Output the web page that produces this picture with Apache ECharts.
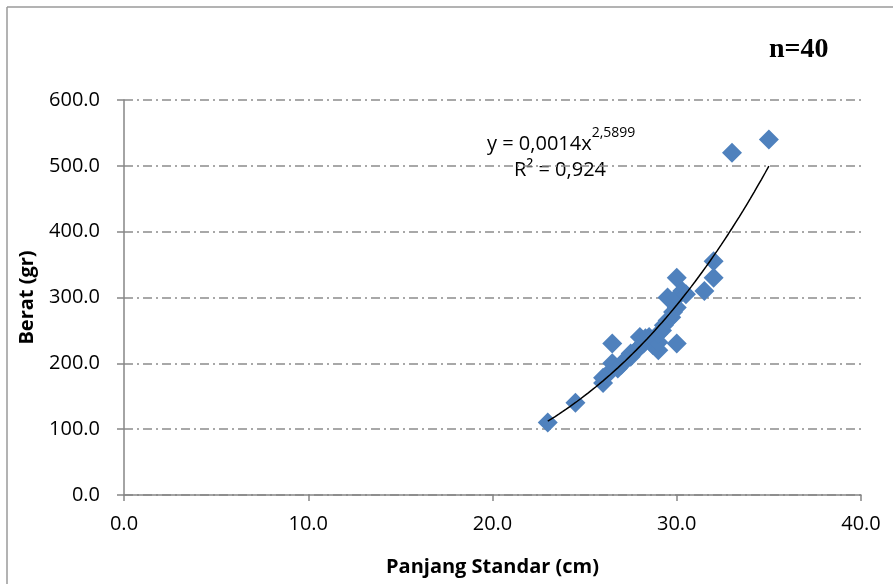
<!DOCTYPE html>
<html>
<head>
<meta charset="utf-8">
<script src="https://cdn.jsdelivr.net/npm/echarts@6/dist/echarts.min.js"></script>
<style>html,body{margin:0;padding:0;background:#fff;}#c{width:893px;height:584px;}</style>
</head>
<body>
<div id="c"></div>
<script>
// Panjang Standar (cm)
var lengths = [23.0, 24.5, 26.0, 26.0, 26.3, 26.5, 26.5, 26.8, 27.0, 27.2,
               27.5, 27.5, 27.8, 28.0, 28.0, 28.2, 28.5, 28.5, 28.7, 29.0,
               29.0, 29.0, 29.2, 29.3, 29.5, 29.5, 29.7, 30.0, 30.0, 30.0,
               30.0, 30.3, 30.5, 31.5, 32.0, 32.0, 33.0, 35.0, 28.3, 29.8];
// Berat (gr)
var weights = [110, 140, 170, 178, 185, 200, 230, 192, 198, 205,
               210, 215, 220, 240, 225, 230, 235, 240, 228, 220,
               232, 245, 250, 258, 265, 300, 270, 230, 285, 300,
               330, 310, 305, 310, 355, 330, 520, 540, 238, 278];
var xTicks = [0, 10, 20, 30, 40];
var yTicks = [0, 100, 200, 300, 400, 500, 600];
var eqText = ['y = 0,0014x', '2,5899', 'R² = 0,924'];
var nText = 'n=40';

var points = lengths.map(function (x, i) { return [x, weights[i]]; });

// power trendline fitted (least squares in log-log space) from the data
var n = lengths.length, sx = 0, sy = 0, sxx = 0, sxy = 0;
for (var i = 0; i < n; i++) {
  var lx = Math.log(lengths[i]), ly = Math.log(weights[i]);
  sx += lx; sy += ly; sxx += lx * lx; sxy += lx * ly;
}
var b = (n * sxy - sx * sy) / (n * sxx - sx * sx);
var a = Math.exp((sy - b * sx) / n);
var xmin = Math.min.apply(null, lengths), xmax = Math.max.apply(null, lengths);
var trend = [];
for (var k = 0; k <= 60; k++) {
  var xv = xmin + (xmax - xmin) * k / 60;
  trend.push([xv, a * Math.pow(xv, b)]);
}

var chart = echarts.init(document.getElementById('c'));
var axisGray = '#868686';
var font = '"Open Sans", sans-serif';
chart.setOption({
  animation: false,
  grid: { left: 124, right: 32, top: 100, bottom: 89, containLabel: false },
  xAxis: {
    type: 'value', min: xTicks[0], max: xTicks[xTicks.length - 1], interval: 10,
    name: 'Panjang Standar (cm)', nameLocation: 'middle', nameGap: 62,
    nameTextStyle: { fontFamily: font, fontWeight: 'bold', fontSize: 20, color: '#000' },
    axisLine: { show: true, onZero: false, lineStyle: { color: axisGray, width: 1.5 } },
    axisTick: { show: true, inside: false, length: 6, lineStyle: { color: axisGray, width: 1.5 } },
    axisLabel: { margin: 19, fontFamily: font, fontSize: 20, color: '#000',
      formatter: function (v) { return v.toFixed(1); } },
    splitLine: { show: false }
  },
  yAxis: {
    type: 'value', min: yTicks[0], max: yTicks[yTicks.length - 1], interval: 100,
    name: 'Berat (gr)', nameLocation: 'middle', nameGap: 87, nameRotate: 90,
    nameTextStyle: { fontFamily: font, fontWeight: 'bold', fontSize: 20, color: '#000' },
    axisLine: { show: true, onZero: false, lineStyle: { color: axisGray, width: 1.5 } },
    axisTick: { show: true, inside: false, length: 7, lineStyle: { color: axisGray, width: 1.5 } },
    axisLabel: { margin: 24, fontFamily: font, fontSize: 20, color: '#000',
      formatter: function (v) { return v.toFixed(1); } },
    splitLine: { show: true, lineStyle: { color: '#8c8c8c', width: 1.5, type: [9, 4, 2, 4] } }
  },
  series: [
    {
      type: 'scatter', data: points, symbol: 'diamond', symbolSize: 20,
      itemStyle: { color: '#4f81bd', opacity: 1 }, z: 2
    },
    {
      type: 'line', data: trend, showSymbol: false, smooth: false,
      lineStyle: { color: '#000', width: 1.5 }, z: 3
    }
  ],
  graphic: [
    { type: 'line', shape: { x1: 7, y1: 7, x2: 893, y2: 7 }, style: { stroke: '#9a9a9a', lineWidth: 1.5 } },
    { type: 'line', shape: { x1: 7, y1: 7, x2: 7, y2: 584 }, style: { stroke: '#9a9a9a', lineWidth: 1.5 } },
    { type: 'text', left: 769, top: 36,
      style: { text: nText, font: 'bold 28px "Liberation Serif", serif', fill: '#000' } },
    { type: 'text', left: 487, top: 126,
      style: {
        text: '{m|' + eqText[0] + '}{s|' + eqText[1] + '}',
        rich: {
          m: { fontFamily: font, fontSize: 20, fill: '#000', verticalAlign: 'bottom', lineHeight: 28 },
          s: { fontFamily: font, fontSize: 14, fill: '#000', verticalAlign: 'top', lineHeight: 28, padding: [0, 0, 7, 0] }
        }
      } },
    { type: 'text', left: 514, top: 160,
      style: { text: eqText[2], font: '20px "Open Sans", sans-serif', fill: '#000' } }
  ]
});
</script>
</body>
</html>
